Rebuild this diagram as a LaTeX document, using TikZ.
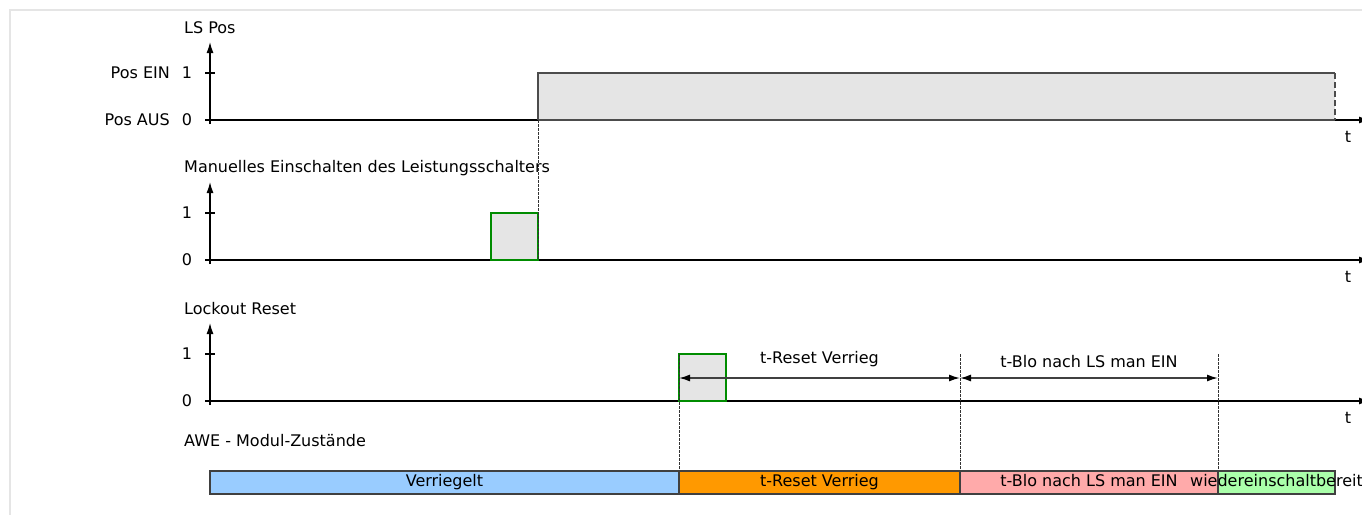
\documentclass[tikz,border=0pt]{standalone}
\usepackage{fontspec}
\setmainfont{DejaVu Sans}
\usetikzlibrary{arrows.meta,calc,positioning}

\definecolor{lockblue}{HTML}{99CCFF}
\definecolor{resetorange}{HTML}{FF9900}
\definecolor{blopink}{HTML}{FFAAAA}
\definecolor{readygreen}{HTML}{AAFFAA}
\definecolor{sigfill}{HTML}{E5E5E5}

\begin{document}
\begin{tikzpicture}[
    x=1pt, y=-1pt, inner sep=0pt,
    font=\fontsize{16}{19}\selectfont,
    axis/.style={-{Latex[length=11pt,width=7pt]}, black, line width=1.3pt},
    sig/.style={draw=black!70, line width=1.3pt},
    pulse/.style={draw=green!55!black, fill=sigfill, line width=1.3pt},
    guide/.style={black!80, line width=0.8pt, dash pattern=on 2.5pt off 1.5pt},
    dim/.style={{Latex[length=11pt,width=7pt,black]}-{Latex[length=11pt,width=7pt,black]},
                black!75, line width=1.5pt},
    state/.style={draw=black!75, line width=1.3pt, outer sep=0pt,
                  minimum height=23pt, text height=11.5pt, text depth=3pt, anchor=west}
]
\useasboundingbox (0,0) rectangle (1362,515);
\draw[black!10, line width=2pt] (10,515) -- (10,10) -- (1362,10);

% axes of the three signals
\foreach \name/\ybase in {ls/120, man/260, lock/401} {
    \coordinate (\name0) at (210,\ybase);
    \coordinate (\name1) at (210,\ybase-47);
    \draw[axis] ($(\name0)+(0,4)$) -- ($(\name0)+(0,-78)$);
    \draw[axis] (\name0) -- ++(1160,0);
    \draw[line width=1.2pt] ($(\name0)+(-5,0)$) -- ++(10,0);
    \draw[line width=1.2pt] ($(\name1)+(-5,0)$) -- ++(10,0);
    \node (\name tick0) at ($(\name0)+(-23,0)$) {0};
    \node (\name tick1) at ($(\name1)+(-23,0)$) {1};
    \node (\name t) at ($(\name0)+(1138,17)$) {t};
}
\node[anchor=west] (lstitle) at (184,28) {LS Pos};
\node[anchor=east] (posein) at (170,73) {Pos EIN};
\node[anchor=east] (posaus) at (170,120) {Pos AUS};
\node[anchor=west] (mantitle) at (184,168) {Manuelles Einschalten des Leistungsschalters};
\node[anchor=west] (locktitle) at (184,309) {Lockout Reset};
\node[anchor=west] (awetitle) at (184,441) {AWE - Modul-Zustände};

% LS Pos
\fill[sigfill] (538,73) rectangle (1335,120);
\draw[sig] (538,120) -- (538,73) -- (1335,73);
\draw[sig, dash pattern=on 6pt off 3pt] (1335,73) -- (1335,120);
\draw[sig] (538,120) -- (1335,120);

% pulses
\filldraw[pulse] (491,260) rectangle (538,213);
\filldraw[pulse] (679,401) rectangle (726,354);

% time marks
\coordinate (ton) at (538,120);
\coordinate (tonlow) at (538,260);
\foreach \name/\xpos in {res/679, blo/960, ready/1218} {
    \coordinate (\name top) at (\xpos,354);
    \coordinate (\name bot) at (\xpos,471);
    \coordinate (\name dim) at (\xpos,378);
}
\draw[guide] (ton) -- (tonlow);
\draw[guide] (restop) -- (resbot);
\draw[guide] (blotop) -- (blobot);
\draw[guide] (readytop) -- (readybot);

\draw[dim] (resdim) -- (blodim) node[midway, above=10pt, black] {t-Reset Verrieg};
\draw[dim] (blodim) -- (readydim) node[midway, above=10pt, black] {t-Blo nach LS man EIN};

% module states
\node[state, fill=lockblue, minimum width=469pt] (locked) at (210,482.5) {Verriegelt};
\node[state, fill=resetorange, minimum width=281pt, right=0pt of locked] (resetting) {t-Reset Verrieg};
\node[state, fill=blopink, minimum width=258pt, right=0pt of resetting] (blocking) {t-Blo nach LS man EIN};
\node[state, fill=readygreen, minimum width=117pt, right=0pt of blocking] (ready) {};
\node[text height=11.5pt, text depth=3pt] (readytext) at (ready) {wiedereinschaltbereit};
\end{tikzpicture}
\end{document}
